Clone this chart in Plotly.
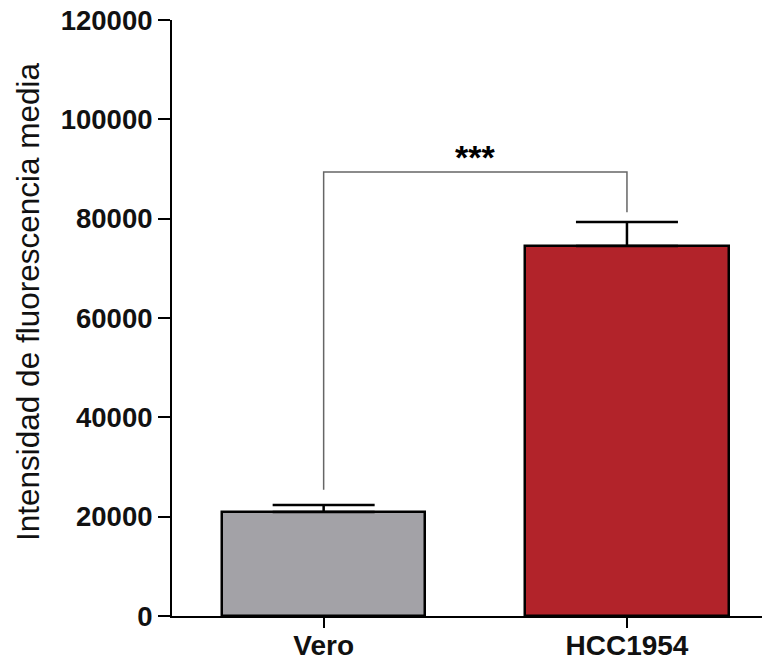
import plotly.graph_objects as go

categories = ["Vero", "HCC1954"]
means = [20950, 74500]
sem_plus = [1400, 4830]
bar_colors = ["#a3a2a7", "#b2232a"]

y_tick_vals = [0, 20000, 40000, 60000, 80000, 100000, 120000]
y_tick_text = ["0", "20000", "40000", "60000", "80000", "100000", "120000"]

sig_label = "***"
bracket_y = 89400
bracket_feet = [25400, 81300]

y_title = "Intensidad de fluorescencia media"

FONT = "Liberation Sans, Arial, Helvetica, sans-serif"

fig = go.Figure()

fig.add_trace(go.Bar(
    x=categories,
    y=means,
    width=0.67,
    marker=dict(color=bar_colors, line=dict(color="black", width=2.5)),
    error_y=dict(type="data", array=sem_plus, arrayminus=[0, 0], symmetric=False,
                 color="black", thickness=2.5, width=51),
    showlegend=False,
    hoverinfo="x+y",
))

fig.add_trace(go.Scatter(
    x=[categories[0], categories[0], categories[1], categories[1]],
    y=[bracket_feet[0], bracket_y, bracket_y, bracket_feet[1]],
    mode="lines",
    line=dict(color="#666666", width=1.5),
    showlegend=False,
    hoverinfo="skip",
))

fig.add_annotation(
    x=0.5, xref="x", y=bracket_y, yref="y",
    text=sig_label, showarrow=False, yanchor="middle", yshift=15,
    font=dict(family=FONT, size=34, color="black", weight="bold"),
)

# y-axis title
fig.add_annotation(
    x=0, xref="paper", y=0.5, yref="paper",
    text=y_title, textangle=-90, showarrow=False,
    xanchor="center", yanchor="middle", xshift=-144, yshift=16,
    font=dict(family=FONT, size=31.5, color="#111111"),
)

fig.update_layout(
    width=770, height=660,
    margin=dict(l=164, r=10, t=12, b=52, autoexpand=False),
    plot_bgcolor="white", paper_bgcolor="white",
    bargap=0,
)

fig.update_xaxes(
    type="category",
    range=[-0.5, 1.465],
    showline=True, linecolor="black", linewidth=2,
    ticks="outside", ticklen=10, tickwidth=2, tickcolor="black",
    ticklabelstandoff=-7, ticklabeloverflow="allow",
    tickfont=dict(family=FONT, size=28, color="#111111", weight="bold"),
    showgrid=False, zeroline=False, fixedrange=True,
)

fig.update_yaxes(
    range=[0, 120000],
    tickvals=y_tick_vals, ticktext=y_tick_text,
    showline=True, linecolor="black", linewidth=2,
    ticks="outside", ticklen=12, tickwidth=2, tickcolor="black",
    ticklabeloverflow="allow",
    tickfont=dict(family=FONT, size=27.5, color="#111111", weight="bold"),
    showgrid=False, zeroline=False, fixedrange=True,
)

fig.write_html("out.html")
